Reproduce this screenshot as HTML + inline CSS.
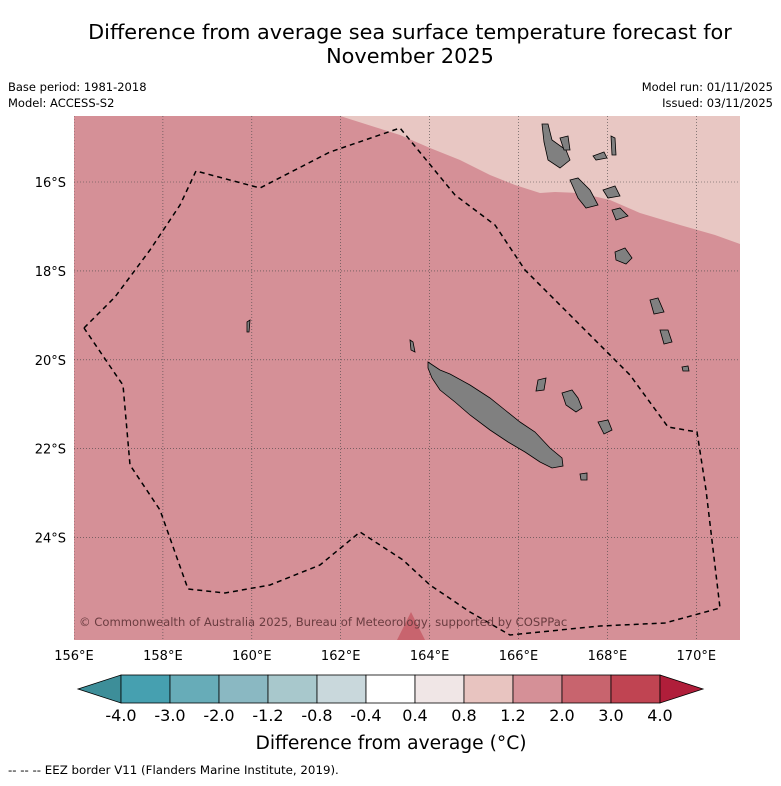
<!DOCTYPE html>
<html><head><meta charset="utf-8"><style>
body{margin:0;background:#fff;font-family:"Liberation Sans","DejaVu Sans",sans-serif;}
svg text{font-family:"DejaVu Sans","Liberation Sans",sans-serif;}
</style></head><body>
<svg id="c" width="781" height="781" viewBox="0 0 781 781">
<text x="410" y="39" font-size="20.8" text-anchor="middle">Difference from average sea surface temperature forecast for</text>
<text x="410" y="63" font-size="20.8" text-anchor="middle">November 2025</text>
<text x="8" y="91" font-size="11.5">Base period: 1981-2018</text>
<text x="8" y="107" font-size="11.5">Model: ACCESS-S2</text>
<text x="773" y="91" font-size="11.5" text-anchor="end">Model run: 01/11/2025</text>
<text x="773" y="107" font-size="11.5" text-anchor="end">Issued: 03/11/2025</text>
<defs><clipPath id="mc"><rect x="74" y="116" width="666" height="524"/></clipPath></defs>
<g clip-path="url(#mc)">
<rect x="74" y="116" width="666" height="524" fill="#d59097"/>
<polygon points="340,116 400,135 430,148 460,160 490,175 515,185 540,193 555,192 580,193 610,200 640,213 680,225 715,235 740,244 740,116" fill="#e8c7c3"/>
<polygon points="397,640 411,612 425,640" fill="#c8646e"/>
<g id="grid"></g>
<g fill="#808080" stroke="#000" stroke-width="0.8">
<polygon points="428,362 440,370 450,374 470,385 490,398 505,410 520,422 535,432 550,448 562,458 563,466 552,468 540,462 525,452 508,442 490,430 470,415 455,402 440,390 432,378 428,368"/>
<polygon points="562,393 572,390 578,398 582,408 576,412 566,405"/>
<polygon points="598,422 608,420 612,430 604,434"/>
<polygon points="580,474 587,473 587,480 581,480"/>
<polygon points="542,124 548,124 552,140 566,150 570,160 560,168 548,160 544,142"/>
<polygon points="560,138 568,136 570,150 564,150"/>
<polygon points="611,136 615,138 616,155 612,155"/>
<polygon points="593,156 604,152 607,158 596,160"/>
<polygon points="570,180 578,178 590,190 598,205 586,208 578,198"/>
<polygon points="603,190 615,186 620,196 608,198"/>
<polygon points="612,210 620,208 628,216 616,220"/>
<polygon points="615,252 625,248 632,258 626,264 616,260"/>
<polygon points="650,300 658,298 664,312 654,314"/>
<polygon points="660,330 668,330 672,342 664,344"/>
<polygon points="682,367 688,366 689,371 683,371"/>
<polygon points="538,380 546,378 544,390 536,391"/>
<polygon points="247,322 250,320 249,332 247,332"/>
<polygon points="410,340 413,342 415,352 411,350"/>
</g>
<polyline points="84,328 115,297 150,250 180,205 196,171 260,188 330,152 400,128 455,195 495,225 525,270 570,315 600,345 630,375 668,427 697,432 706,490 720,608 665,623 600,626 510,635 470,612 430,585 403,560 360,532 320,565 270,585 225,593 188,589 160,510 130,465 123,385 118,378 84,328" fill="none" stroke="#000" stroke-width="1.5" stroke-dasharray="5,4"/>
<text x="79" y="626" font-size="11.6" fill="#6a3c40">© Commonwealth of Australia 2025, Bureau of Meteorology, supported by COSPPac</text>
</g>
<g id="axes"></g>
<g id="cbar"></g>
<text x="391" y="749" font-size="18.7" text-anchor="middle">Difference from average (°C)</text>
<text x="8" y="774" font-size="11.8">--  --  -- EEZ border V11 (Flanders Marine Institute, 2019).</text>
</svg>
<script>
const lonTicks=[156,158,160,162,164,166,168,170];
const latTicks=[16,18,20,22,24];
const cbarLabels=["-4.0","-3.0","-2.0","-1.2","-0.8","-0.4","0.4","0.8","1.2","2.0","3.0","4.0"];
const cbarColors=["#46a0b0","#67acb8","#8ab8c2","#a8c8cc","#c9d8dc","#ffffff","#f0e6e6","#e8c4c0","#d59097","#c8646e","#c04452"];
const NS="http://www.w3.org/2000/svg";
const x0=74,lon0=156,pxd=44.45,y16=182;
const xs=l=>x0+(l-lon0)*pxd, ys=l=>y16+(l-16)*pxd;
function mk(t,a,p){const e=document.createElementNS(NS,t);for(const k in a)e.setAttribute(k,a[k]);p.appendChild(e);return e;}
const grid=document.getElementById('grid'),axes=document.getElementById('axes'),cb=document.getElementById('cbar');
lonTicks.forEach(l=>{const x=xs(l);
 const g=mk('line',{x1:x,x2:x,y1:116,y2:640,stroke:'#444','stroke-width':0.6,'stroke-dasharray':'1,2'},grid);
 
 
 const t=mk('text',{x:x,y:660,'font-size':13,'text-anchor':'middle'},axes);t.textContent=l+'°E';
 
 
});
latTicks.forEach(l=>{const y=ys(l);
 const g=mk('line',{x1:74,x2:740,y1:y,y2:y,stroke:'#444','stroke-width':0.6,'stroke-dasharray':'1,2'},grid);
 
 
 const t=mk('text',{x:66,y:y+5,'font-size':13,'text-anchor':'end'},axes);t.textContent=l+'°S';
 
 
});
const cx0=121,cw=49,cy=675,ch=28;
const lt=mk('polygon',{points:`78,${cy+ch/2} ${cx0},${cy} ${cx0},${cy+ch}`,fill:'#3d8e99',stroke:'#000','stroke-width':0.8},cb);


cbarColors.forEach((c,i)=>{const r=mk('rect',{x:cx0+i*cw,y:cy,width:cw,height:ch,fill:c,stroke:'#000','stroke-width':0.8},cb);
 
 });
const xe=cx0+cbarColors.length*cw;
const rt=mk('polygon',{points:`${xe},${cy} ${xe+43},${cy+ch/2} ${xe},${cy+ch}`,fill:'#b01e3a',stroke:'#000','stroke-width':0.8},cb);


cbarLabels.forEach((s,i)=>{const t=mk('text',{x:cx0+i*cw,y:721,'font-size':16,'text-anchor':'middle'},cb);t.textContent=s;
 
 });
</script>
</body></html>
